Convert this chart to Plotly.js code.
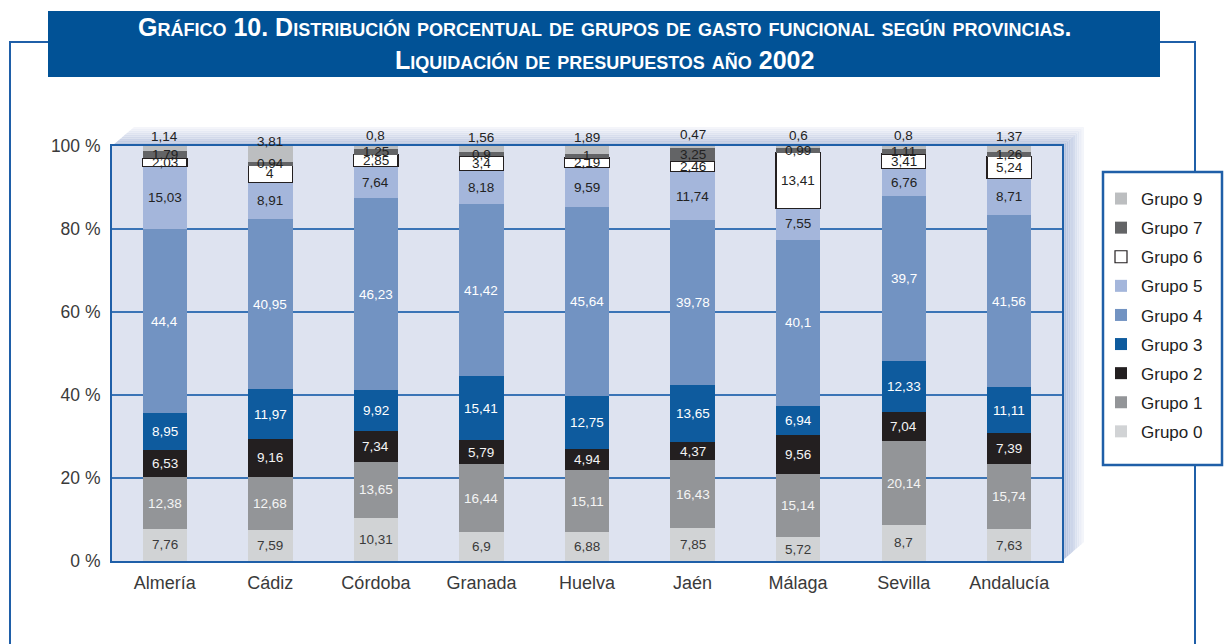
<!DOCTYPE html>
<html>
<head>
<meta charset="utf-8">
<script src="https://cdn.plot.ly/plotly-3.0.1.min.js"></script>
<style>html,body{margin:0;padding:0;background:#fff;}#chart{width:1225px;height:644px;}</style>
</head>
<body>
<div id="chart"></div>
<script>
var provincias = ["Almería","Cádiz","Córdoba","Granada","Huelva","Jaén","Málaga","Sevilla","Andalucía"];
var grupo0 = [7.76, 7.59, 10.31, 6.9, 6.88, 7.85, 5.72, 8.7, 7.63];
var grupo1 = [12.38, 12.68, 13.65, 16.44, 15.11, 16.43, 15.14, 20.14, 15.74];
var grupo2 = [6.53, 9.16, 7.34, 5.79, 4.94, 4.37, 9.56, 7.04, 7.39];
var grupo3 = [8.95, 11.97, 9.92, 15.41, 12.75, 13.65, 6.94, 12.33, 11.11];
var grupo4 = [44.4, 40.95, 46.23, 41.42, 45.64, 39.78, 40.1, 39.7, 41.56];
var grupo5 = [15.03, 8.91, 7.64, 8.18, 9.59, 11.74, 7.55, 6.76, 8.71];
var grupo6 = [2.03, 4, 2.85, 3.4, 2.19, 2.46, 13.41, 3.41, 5.24];
var grupo7 = [1.79, 0.94, 1.25, 0.9, 1, 3.25, 0.99, 1.11, 1.26];
var grupo9 = [1.14, 3.81, 0.8, 1.56, 1.89, 0.47, 0.6, 0.8, 1.37];
var yTicks = [0, 20, 40, 60, 80, 100];

var series = [
  {name:"Grupo 0", v:grupo0, color:"#d1d3d5", text:"#3a3a3a"},
  {name:"Grupo 1", v:grupo1, color:"#939598", text:"#f4f4f4"},
  {name:"Grupo 2", v:grupo2, color:"#231f20", text:"#f4f4f4"},
  {name:"Grupo 3", v:grupo3, color:"#0e5b9e", text:"#ffffff"},
  {name:"Grupo 4", v:grupo4, color:"#7293c2", text:"#ffffff"},
  {name:"Grupo 5", v:grupo5, color:"#a4b6db", text:"#222222"},
  {name:"Grupo 6", v:grupo6, color:"#ffffff", text:"#222222", line:true},
  {name:"Grupo 7", v:grupo7, color:"#636466", text:"#222222"},
  {name:"Grupo 9", v:grupo9, color:"#bcbec0", text:"#222222", above:true}
];

// plot area in pixels
var L = 112, R = 1062, T = 146, B = 561;
function px(x){ return (x - L) / (R - L); }
function py(y){ return (B - y) / (B - T); }

var traces = [];
var annotations = [];
var base = provincias.map(function(){ return 0; });
series.forEach(function(s, i){
  traces.push({
    type: "bar",
    name: s.name,
    x: provincias,
    y: s.v,
    legendgroup: "g" + i,
    legendrank: 100 - i,
    cliponaxis: false,
    marker: {color: s.color, line: {color: "#231f20", width: s.line ? 1.2 : 0}},
    hoverinfo: "name+y"
  });
  s.v.forEach(function(val, j){
    annotations.push({
      x: provincias[j], y: base[j] + val / 2, xref: "x", yref: "y",
      text: String(val).replace(".", ","), showarrow: false,
      yshift: s.above ? 12 : 0,
      font: {family: "Liberation Sans, Arial, sans-serif", size: 13.5, color: s.text}
    });
    base[j] += val;
  });
});

// title annotation
annotations.push({
  xref: "paper", yref: "paper", x: px(604), y: py(44), xanchor: "center", yanchor: "middle",
  showarrow: false, align: "center",
  text: "<b>Gráfico 10. Distribución porcentual de grupos de gasto funcional según provincias.<br>Liquidación de presupuestos año 2002</b>",
  font: {family: "Liberation Sans Narrow, Arial Narrow, Liberation Sans, Arial, sans-serif", size: 25, color: "#ffffff", variant: "small-caps"}
});

var shapes = [];
// title box
shapes.push({type:"rect", xref:"paper", yref:"paper", x0:px(48), x1:px(1160), y0:py(11), y1:py(77),
  fillcolor:"#015296", line:{width:0}, layer:"above"});
// outer frame lines
shapes.push({type:"path", xref:"paper", yref:"paper",
  path:"M "+px(48)+","+py(42)+" L "+px(10)+","+py(42)+" L "+px(10)+","+py(660),
  line:{color:"#1f5fa8", width:2}});
shapes.push({type:"path", xref:"paper", yref:"paper",
  path:"M "+px(1160)+","+py(42)+" L "+px(1195)+","+py(42)+" L "+px(1195)+","+py(660),
  line:{color:"#1f5fa8", width:2}});
// legend box
shapes.push({type:"rect", xref:"paper", yref:"paper", x0:px(1103), x1:px(1222), y0:py(172), y1:py(465),
  fillcolor:"#ffffff", line:{color:"#1f5fa8", width:2.5}, layer:"above"});

// 3D top face / right face gradient bands
var DX = 22, DY = 19, N = 10;
function mix(c1, c2, t){
  var a = [parseInt(c1.substr(1,2),16), parseInt(c1.substr(3,2),16), parseInt(c1.substr(5,2),16)];
  var b = [parseInt(c2.substr(1,2),16), parseInt(c2.substr(3,2),16), parseInt(c2.substr(5,2),16)];
  return "rgb(" + a.map(function(v,k){ return Math.round(v + (b[k]-v)*t); }).join(",") + ")";
}
for (var k = 0; k < N; k++){
  var f0 = k / N, f1 = (k + 1) / N;
  var col = mix("#b3bfdb", "#f7f8fc", (k + 0.5) / N);
  var p = "M "+px(L+DX*f0)+","+py(T-DY*f0)+" L "+px(R+DX*f0)+","+py(T-DY*f0)+
          " L "+px(R+DX*f1)+","+py(T-DY*f1)+" L "+px(L+DX*f1)+","+py(T-DY*f1)+" Z";
  shapes.push({type:"path", xref:"paper", yref:"paper", path:p, fillcolor:col, line:{width:0}, layer:"below"});
  var col2 = mix("#a8b8d9", "#f7f8fc", (k + 0.5) / N);
  var p2 = "M "+px(R+DX*f0)+","+py(T-DY*f0)+" L "+px(R+DX*f1)+","+py(T-DY*f1)+
           " L "+px(R+DX*f1)+","+py(B-DY*f1)+" L "+px(R+DX*f0)+","+py(B-DY*f0)+" Z";
  shapes.push({type:"path", xref:"paper", yref:"paper", path:p2, fillcolor:col2, line:{width:0}, layer:"below"});
}

var layout = {
  width: 1225, height: 644,
  margin: {l: L, r: 1225 - R, t: T, b: 644 - B, pad: 0},
  paper_bgcolor: "#ffffff",
  plot_bgcolor: "#dee3f0",
  barmode: "stack",
  bargap: 0.58,
  showlegend: true,
  legend: {
    x: px(1101), y: py(181), xanchor: "left", yanchor: "top",
    bgcolor: "rgba(0,0,0,0)", borderwidth: 0,
    traceorder: "grouped", tracegroupgap: 4,
    font: {family: "Liberation Sans, Arial, sans-serif", size: 17, color: "#222222"}
  },
  xaxis: {
    type: "category", showgrid: false, showline: true, linecolor: "#1f5fa8", linewidth: 2, mirror: true,
    ticks: "", ticklabelstandoff: 4,
    tickfont: {family: "Liberation Sans, Arial, sans-serif", size: 18, color: "#3a3a3a"},
    fixedrange: true
  },
  yaxis: {
    range: [0, 100], tickmode: "array", tickvals: yTicks,
    ticktext: yTicks.map(function(t){ return t + " %"; }),
    showgrid: true, gridcolor: "#3a74b6", gridwidth: 1.5,
    showline: true, linecolor: "#1f5fa8", linewidth: 2, mirror: true, zeroline: false,
    ticks: "", ticklabelstandoff: 6,
    tickfont: {family: "Liberation Sans, Arial, sans-serif", size: 17.5, color: "#3a3a3a"},
    fixedrange: true
  },
  annotations: annotations,
  shapes: shapes
};

Plotly.newPlot("chart", traces, layout, {displayModeBar: false, staticPlot: true});
</script>
</body>
</html>
